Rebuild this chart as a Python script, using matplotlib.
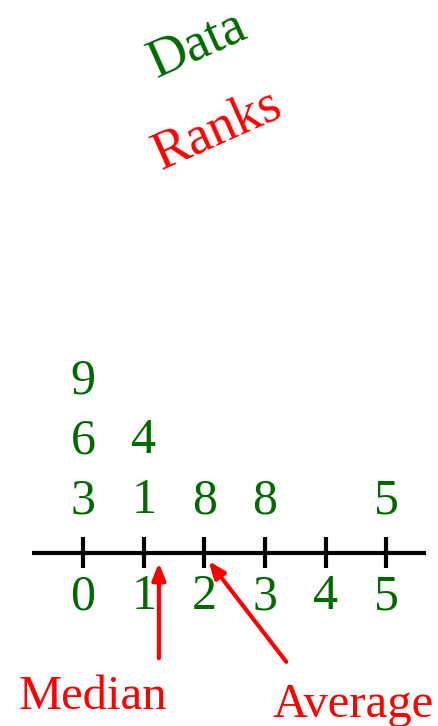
import numpy as np
import matplotlib
matplotlib.use('Agg')
import matplotlib.pyplot as plt

# the data set, shown as stems (integer part) and leaves (tenths)
data = [0.3, 0.6, 0.9, 1.1, 1.4, 2.8, 3.8, 5.5]
stem_ticks = [0, 1, 2, 3, 4, 5]

GREEN = '#006a00'
RED = '#ff0000'
FONT = 'Liberation Serif'

plt.rcParams['font.family'] = [FONT, 'DejaVu Serif']

fig = plt.figure(figsize=(4.39, 7.26), dpi=100)
ax = fig.add_axes([0, 0, 1, 1])
ax.set_xlim(-1.37, 5.87)
ax.set_ylim(-3.75, 8.35)
ax.axis('off')

# leaves stacked above their stem
counts = {}
for v in data:
    stem = int(v)
    leaf = int(round((v - stem) * 10))
    row = counts.get(stem, 0)
    counts[stem] = row + 1
    ax.text(stem, row, str(leaf), color=GREEN, fontsize=36,
            ha='center', va='center')

# number line
axis_y = -0.87
ax.plot([-0.85, 5.65], [axis_y, axis_y], color='black', lw=3,
        solid_capstyle='butt')
for t in stem_ticks:
    ax.plot([t, t], [-0.6, -1.12], color='black', lw=3,
            solid_capstyle='butt')
    ax.text(t, -1.6, str(t), color=GREEN, fontsize=36,
            ha='center', va='center')

median = np.median(data)
average = np.mean(data)

arrow = dict(arrowstyle='-|>,head_length=1.0,head_width=0.4',
             color=RED, lw=3, shrinkA=0, shrinkB=0)
ax.annotate('', xy=(median, -1.03), xytext=(median, -2.62),
            arrowprops=arrow)
ax.annotate('', xy=(average + 0.02, -1.0), xytext=(3.35, -2.68),
            arrowprops=arrow)

ax.text(0.17, -3.27, 'Median', color=RED, fontsize=35,
        ha='center', va='center')
ax.text(4.45, -3.4, 'Average', color=RED, fontsize=35,
        ha='center', va='center')

ax.text(1.88, 7.6, 'Data', color=GREEN, fontsize=39, rotation=24,
        ha='center', va='center', rotation_mode='anchor')
ax.text(2.22, 6.17, 'Ranks', color=RED, fontsize=39, rotation=24,
        ha='center', va='center', rotation_mode='anchor')

fig.savefig('out.png', dpi=100)
